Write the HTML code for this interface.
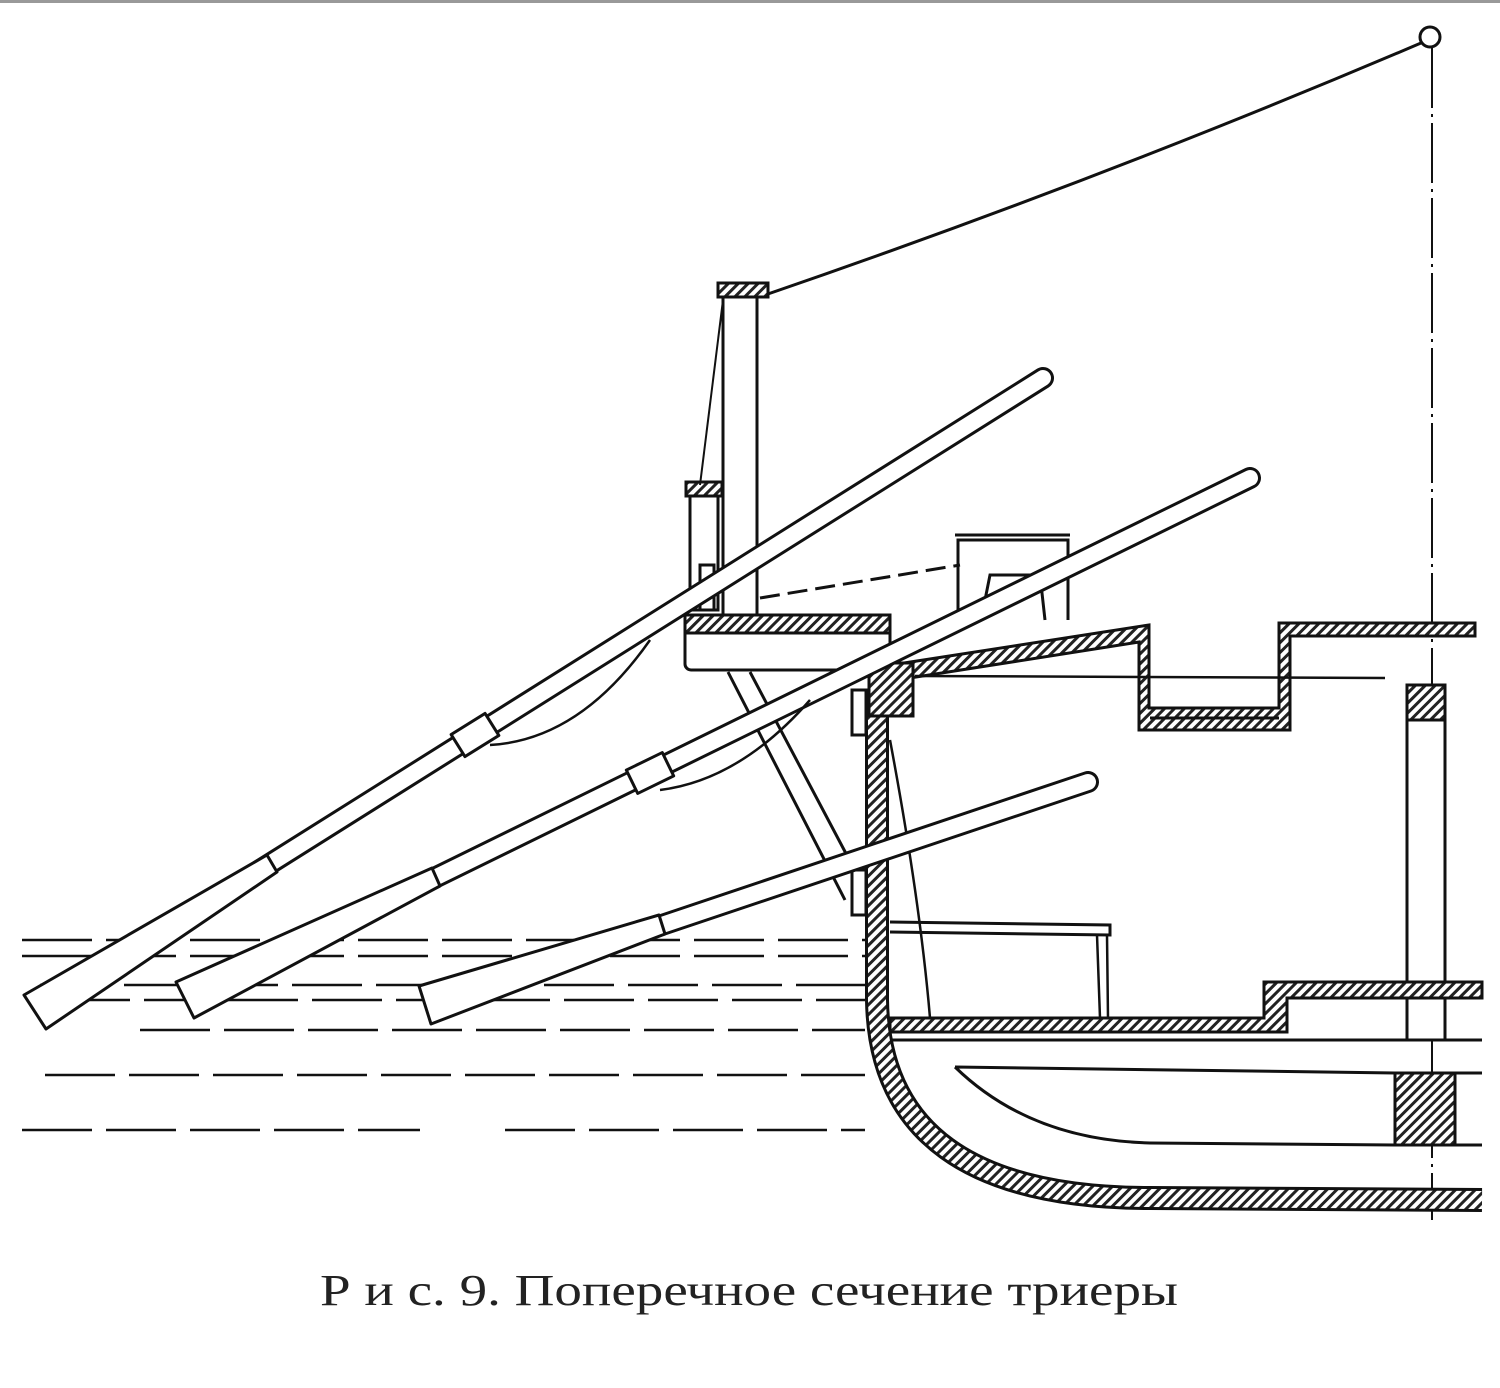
<!DOCTYPE html>
<html><head><meta charset="utf-8"><style>html,body{margin:0;padding:0;background:#fff}svg{display:block}</style></head>
<body>
<svg width="1500" height="1388" viewBox="0 0 1500 1388" xmlns="http://www.w3.org/2000/svg">
<defs>
<pattern id="h" width="7" height="7" patternUnits="userSpaceOnUse" patternTransform="rotate(45)">
<rect width="7" height="7" fill="#fff"/><rect width="3" height="7" fill="#222"/></pattern>
</defs>
<rect x="0" y="0" width="1500" height="3" fill="#999"/>
<g fill="none" stroke="#111" stroke-width="3">
<circle cx="1430" cy="37" r="10"/>
<path d="M765,295 Q1100,180 1421,43"/>
<path d="M1432,48 L1432,1220" stroke-width="2" stroke-dasharray="60,6,3,6"/>
<g stroke-width="2.5" stroke-dasharray="70,14">
<path d="M22,940 H865"/><path d="M22,956 H865"/><path d="M40,985 H865"/><path d="M60,1000 H865"/>
<path d="M140,1030 H865"/><path d="M45,1075 H865"/><path d="M22,1130 H420 M505,1130 H865"/>
</g>
<!-- mast -->
<rect x="723" y="295" width="34" height="320" fill="#fff"/>
<rect x="718" y="283" width="50" height="14" fill="url(#h)"/>
<rect x="690" y="490" width="28" height="120" fill="#fff"/>
<rect x="686" y="482" width="36" height="14" fill="url(#h)"/>
<path d="M723,300 L700,485" stroke-width="2"/>
<rect x="700" y="565" width="14" height="45" fill="#fff"/>
<!-- outrigger -->
<rect x="685" y="615" width="205" height="55" rx="6" fill="#fff"/>
<rect x="685" y="615" width="205" height="18" fill="url(#h)"/>
<path d="M728,672 L845,900 M750,672 L860,880"/>
<path d="M760,598 L960,565" stroke-dasharray="20,8"/>
<!-- deckhouse -->
<path d="M958,620 L958,540 L1068,540 L1068,620"/>
<path d="M955,535 H1070"/>
<path d="M985,600 L990,575 L1040,575 L1045,620"/>
<!-- upper deck -->
<path d="M904,663 L1149,625 L1149,708 L1279,708 L1279,623 L1475,623 L1475,636 L1290,636 L1290,730 L1139,730 L1139,642 L910,678 Z" fill="url(#h)"/>
<path d="M915,676 L1385,678" stroke-width="2.5"/>
<path d="M1150,718 H1279"/>
<!-- pillar -->
<rect x="1407" y="685" width="38" height="355" fill="#fff"/>
<rect x="1407" y="685" width="38" height="35" fill="url(#h)"/>
<!-- hull -->
<path d="M877,690 L877,1000 Q880,1198 1150,1198 L1482,1200" stroke="#111" stroke-width="24"/>
<path d="M877,690 L877,1000 Q880,1198 1150,1198 L1482,1200" stroke="url(#h)" stroke-width="18"/>
<rect x="869" y="663" width="44" height="53" fill="url(#h)"/>
<rect x="852" y="690" width="14" height="45" fill="#fff"/>
<rect x="852" y="870" width="14" height="45" fill="#fff"/>
<path d="M890,740 Q920,900 930,1018" stroke-width="2.5"/>
<!-- lower decks -->
<path d="M890,1018 L1264,1018 L1264,982 L1482,982 L1482,998 L1287,998 L1287,1032 L890,1032 Z" fill="url(#h)"/>
<path d="M890,1040 H1482" stroke-width="3"/>
<!-- keel -->
<path d="M955,1067 L1395,1073 M955,1067 Q1030,1140 1150,1143 L1395,1145 M1455,1073 H1482 M1455,1145 H1482"/>
<rect x="1395" y="1073" width="60" height="72" fill="url(#h)"/>
<!-- bench -->
<path d="M890,922 L1110,925 L1110,935 L890,932"/>
<path d="M1097,935 L1100,1018 M1107,935 L1108,1018" stroke-width="2.5"/>
</g>
<!-- oar shafts -->
<g stroke-linecap="round" fill="none">
<path d="M260,870 L1043,378" stroke="#111" stroke-width="22"/>
<path d="M260,870 L1043,378" stroke="#fff" stroke-width="16"/>
<path d="M420,885 L1250,478" stroke="#111" stroke-width="22"/>
<path d="M420,885 L1250,478" stroke="#fff" stroke-width="16"/>
<path d="M650,929 L1088,782" stroke="#111" stroke-width="22"/>
<path d="M650,929 L1088,782" stroke="#fff" stroke-width="16"/>
</g>
<g fill="#fff" stroke="#111" stroke-width="3" stroke-linejoin="round">
<polygon points="24,995 267,855 277,872 46,1029"/>
<polygon points="176,982 432,868 440,886 194,1018"/>
<polygon points="419,986 659,915 665,934 431,1024"/>
<rect x="455" y="722" width="40" height="26" transform="rotate(-32 475 735)"/>
<rect x="630" y="760" width="40" height="26" transform="rotate(-26 650 773)"/>
</g>
<g fill="none" stroke="#111" stroke-width="2.5">
<path d="M490,745 Q580,740 650,640"/>
<path d="M660,790 Q740,780 810,700"/>
</g>
<text x="320" y="1305" font-family="'Liberation Serif', serif" font-size="44" fill="#222" textLength="858" lengthAdjust="spacingAndGlyphs">Р и с. 9. Поперечное  сечение  триеры</text>
</svg>
</body></html>
